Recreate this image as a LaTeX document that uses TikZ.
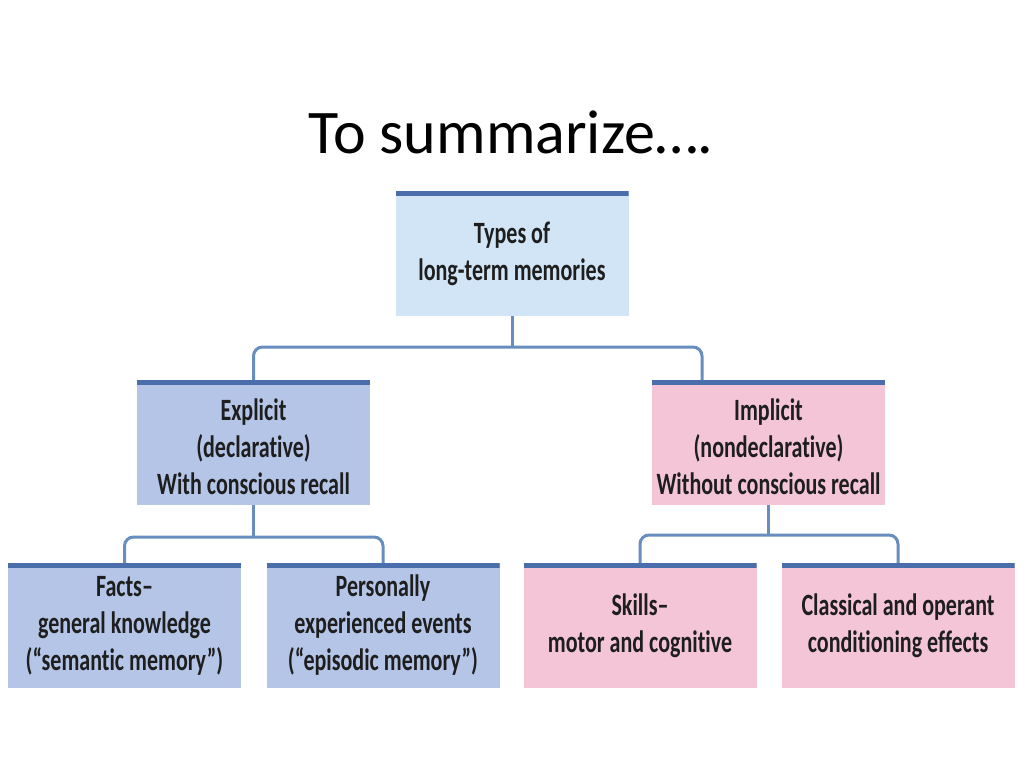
\documentclass[tikz,border=0pt]{standalone}
\usepackage{fontspec}
\setmainfont{Carlito}
\newfontfamily\condfont[FakeStretch=0.71,Ligatures=NoCommon]{Carlito}
\usetikzlibrary{positioning}
\definecolor{topfill}{RGB}{210,229,246}
\definecolor{bluefill}{RGB}{181,197,231}
\definecolor{pinkfill}{RGB}{243,197,215}
\definecolor{barblue}{RGB}{74,110,172}
\definecolor{connblue}{RGB}{104,142,192}
\definecolor{txt}{RGB}{30,30,30}
\tikzset{
  x=1pt, y=-1pt,
  boxtext/.style={align=center, text=txt, font=\condfont\bfseries\fontsize{31}{37}\selectfont},
  boxbase/.style={rectangle, minimum width=233pt, minimum height=125pt, inner sep=0pt, boxtext,
    path picture={\draw[line width=10pt, barblue] (path picture bounding box.north west) -- (path picture bounding box.north east);}},
  topbox/.style={boxbase, fill=topfill},
  bluebox/.style={boxbase, fill=bluefill},
  pinkbox/.style={boxbase, fill=pinkfill},
  conn/.style={draw=connblue, line width=3pt, rounded corners=9pt}
}
\begin{document}
\begin{tikzpicture}
\useasboundingbox[fill=white] (0,0) rectangle (1024,768);
\node[font=\fontsize{62}{70}\selectfont, anchor=base] (title) at (511,153) {To summarize….};

\node[topbox] (top) at (512,253.5) {Types of\\long-term memories};
\node[bluebox, label={[boxtext, yshift=-4pt]center:{Explicit\\(declarative)\\With conscious recall}}] (exp) at (253.5,442.5) {};
\node[pinkbox, label={[boxtext, yshift=-4pt]center:{Implicit\\(nondeclarative)\\Without conscious recall}}] (imp) at (768.5,442.5) {};
\node[bluebox] (facts) at (124.5,625.5) {Facts–\\general knowledge\\(“semantic memory”)};
\node[bluebox] (epis) at (383,625.5) {Personally\\experienced events\\(“episodic memory”)};
\node[pinkbox] (skills) at (640,625.5) {Skills–\\motor and cognitive};
\node[pinkbox] (cond) at (898,625.5) {Classical and operant\\conditioning effects};

\coordinate (h1) at (512,347);
\coordinate (impdrop) at (702,380);
\draw[conn] (top.south) -- (h1);
\draw[conn] (exp.north) |- (h1) -| (impdrop);

\coordinate (h2) at (253.5,537);
\draw[conn] (exp.south) -- (h2);
\draw[conn] (facts.north) |- (h2) -| (epis.north);

\coordinate (h3) at (768.5,535);
\draw[conn] (imp.south) -- (h3);
\draw[conn] (skills.north) |- (h3) -| (cond.north);
\end{tikzpicture}
\end{document}
